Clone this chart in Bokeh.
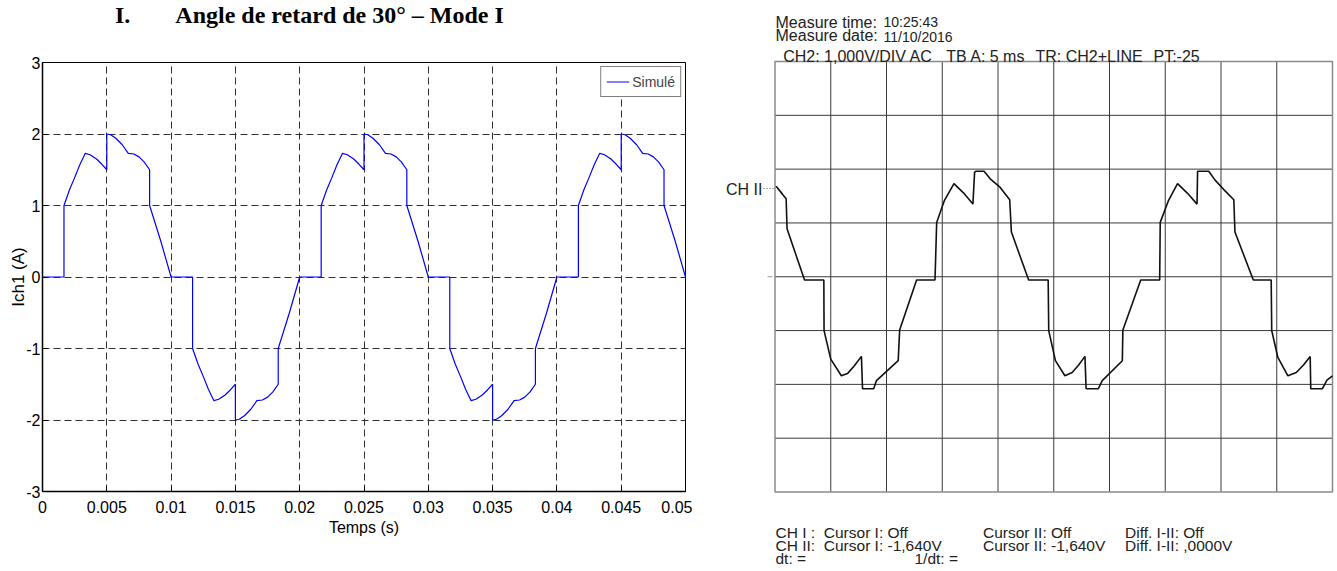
from bokeh.plotting import figure
from bokeh.models import Range1d, FixedTicker, Label
from bokeh.layouts import row, column
from bokeh.embed import file_html
from bokeh.resources import INLINE

# ---------------- data: simulated current (left chart) ----------------
sim_t = [
    0.0, 0.00167, 0.00167, 0.0021, 0.0025, 0.0029, 0.00333, 0.0037, 0.0042, 0.0046, 0.005, 0.005,
    0.0053, 0.0057, 0.0062, 0.00667, 0.0071, 0.0075, 0.0079, 0.00833, 0.00833, 0.0092, 0.0100,
    0.01167, 0.01167, 0.0121, 0.0125, 0.0129, 0.01333, 0.0137, 0.0142, 0.0146, 0.015, 0.015,
    0.0153, 0.0157, 0.0162, 0.01667, 0.0171, 0.0175, 0.0179, 0.01833, 0.01833, 0.0192, 0.0200,
    0.02167, 0.02167, 0.0221, 0.0225, 0.0229, 0.02333, 0.0237, 0.0242, 0.0246, 0.025, 0.025,
    0.0253, 0.0257, 0.0262, 0.02667, 0.0271, 0.0275, 0.0279, 0.02833, 0.02833, 0.0292, 0.0300,
    0.03167, 0.03167, 0.0321, 0.0325, 0.0329, 0.03333, 0.0337, 0.0342, 0.0346, 0.035, 0.035,
    0.0353, 0.0357, 0.0362, 0.03667, 0.0371, 0.0375, 0.0379, 0.03833, 0.03833, 0.0392, 0.0400,
    0.04167, 0.04167, 0.0421, 0.0425, 0.0429, 0.04333, 0.0437, 0.0442, 0.0446, 0.045, 0.045,
    0.0453, 0.0457, 0.0462, 0.04667, 0.0471, 0.0475, 0.0479, 0.04833, 0.04833, 0.0492, 0.0500,
]
sim_i = [
    0.0, 0.0, 1.0, 1.22, 1.39, 1.57, 1.73, 1.71, 1.65, 1.58, 1.5, 2.0,
    1.99, 1.94, 1.85, 1.73, 1.72, 1.68, 1.61, 1.5, 1.0, 0.5, 0.0,
    0.0, -1.0, -1.22, -1.39, -1.57, -1.73, -1.71, -1.65, -1.58, -1.5, -2.0,
    -1.99, -1.94, -1.85, -1.73, -1.72, -1.68, -1.61, -1.5, -1.0, -0.5, 0.0,
    0.0, 1.0, 1.22, 1.39, 1.57, 1.73, 1.71, 1.65, 1.58, 1.5, 2.0,
    1.99, 1.94, 1.85, 1.73, 1.72, 1.68, 1.61, 1.5, 1.0, 0.5, 0.0,
    0.0, -1.0, -1.22, -1.39, -1.57, -1.73, -1.71, -1.65, -1.58, -1.5, -2.0,
    -1.99, -1.94, -1.85, -1.73, -1.72, -1.68, -1.61, -1.5, -1.0, -0.5, 0.0,
    0.0, 1.0, 1.22, 1.39, 1.57, 1.73, 1.71, 1.65, 1.58, 1.5, 2.0,
    1.99, 1.94, 1.85, 1.73, 1.72, 1.68, 1.61, 1.5, 1.0, 0.5, 0.0,
]
x_ticks = [0, 0.005, 0.01, 0.015, 0.02, 0.025, 0.03, 0.035, 0.04, 0.045, 0.05]
x_tick_labels = ["0", "0.005", "0.01", "0.015", "0.02", "0.025", "0.03", "0.035", "0.04", "0.045", "0.05"]
y_ticks = [-3, -2, -1, 0, 1, 2, 3]
y_tick_labels = ["-3", "-2", "-1", "0", "1", "2", "3"]
heading_number = "I."
heading_text = "Angle de retard de 30° – Mode I"

# ---------------- data: oscilloscope trace (right chart) ----------------
scope_t_ms = [
    0.1, 0.65, 1.0, 1.08, 2.65, 4.38, 4.4, 5.0, 5.95, 6.5, 7.1, 7.75, 7.85, 8.85, 9.1, 11.05, 11.18,
    12.7, 14.35, 14.5, 15.2, 16.05, 16.9, 17.75, 17.9, 18.0, 18.75, 19.3, 20.2, 21.05, 21.2, 22.75,
    24.5, 24.55, 25.15, 26.0, 26.65, 27.2, 27.8, 27.9, 29.0, 29.35, 31.15, 31.2, 32.8, 34.5, 34.55,
    35.3, 36.1, 37.0, 37.85, 37.9, 38.0, 38.9, 39.45, 40.25, 41.15, 41.25, 42.9, 44.5, 44.55, 45.1,
    46.0, 46.75, 47.4, 48.0, 48.05, 49.1, 49.5, 50.0,
]
scope_v = [
    1.68, 1.54, 1.45, 0.89, -0.06, -0.06, -1.0, -1.53, -1.84, -1.8, -1.66, -1.48, -2.08, -2.08, -1.93, -1.56, -0.99,
    -0.06, -0.06, 1.01, 1.42, 1.73, 1.56, 1.35, 1.94, 1.96, 1.96, 1.82, 1.66, 1.43, 0.83, -0.06,
    -0.06, -1.0, -1.56, -1.84, -1.78, -1.65, -1.48, -2.08, -2.08, -1.93, -1.56, -0.99, -0.06, -0.06, 1.01,
    1.42, 1.73, 1.55, 1.35, 1.96, 1.96, 1.96, 1.8, 1.62, 1.43, 0.83, -0.06, -0.06, -1.0, -1.5,
    -1.84, -1.78, -1.64, -1.48, -2.08, -2.08, -1.92, -1.84,
]
scope_x_grid = [0, 5, 10, 15, 20, 25, 30, 35, 40, 45, 50]
scope_y_grid = [-4, -3, -2, -1, 0, 1, 2, 3, 4]
ch2_marker_level = 1.64
ground_level = 0.0
header_lines = [
    ("Measure time:", "10:25:43"),
    ("Measure date:", "11/10/2016"),
]
setting_texts = ["CH2: 1,000V/DIV AC", "TB A: 5 ms", "TR: CH2+LINE", "PT:-25"]
cursor_rows = [
    ["CH I :", "Cursor I: Off", "Cursor II: Off", "Diff. I-II: Off"],
    ["CH II:", "Cursor I: -1,640V", "Cursor II: -1,640V", "Diff. I-II: ,0000V"],
]
dt_texts = ["dt: =", "1/dt: ="]

SANS = "Liberation Sans"
LEFT_W = 692
TOTAL_W = 1337
TOTAL_H = 571
HEAD_H = 34
FRAME_TOP = 62

# ================= heading strip (above left chart) =================
hf = figure(width=LEFT_W, height=HEAD_H, x_range=Range1d(0, LEFT_W), y_range=Range1d(HEAD_H, 0),
            x_axis_type=None, y_axis_type=None, output_backend="svg", toolbar_location=None,
            min_border=0)
hf.outline_line_color = None
hf.background_fill_color = "white"
hf.border_fill_color = "white"
hf.add_layout(Label(x=78, y=27, text=heading_number, text_font="Liberation Serif",
                    text_font_style="bold", text_font_size="24px", text_color="black"))
hf.add_layout(Label(x=143, y=27, text=heading_text, text_font="Liberation Serif",
                    text_font_style="bold", text_font_size="24px", text_color="black"))

# ================= left chart =================
p1 = figure(width=LEFT_W, height=TOTAL_H - HEAD_H, x_range=Range1d(0, 0.05), y_range=Range1d(-3, 3),
            output_backend="svg", toolbar_location=None,
            min_border_left=42, min_border_right=7, min_border_top=FRAME_TOP - HEAD_H,
            min_border_bottom=TOTAL_H - 491 - 0,
            x_axis_label="Temps (s)", y_axis_label="Ich1 (A)")
p1.background_fill_color = "white"
p1.border_fill_color = "white"
p1.outline_line_color = "black"
p1.outline_line_width = 1

for ax, ticks, labels in ((p1.xaxis[0], x_ticks, x_tick_labels), (p1.yaxis[0], y_ticks, y_tick_labels)):
    ax.ticker = FixedTicker(ticks=ticks)
    ax.major_label_overrides = dict(zip(ticks, labels))
    ax.major_tick_in = 5
    ax.major_tick_out = 0
    ax.minor_tick_line_color = None
    ax.axis_line_color = "black"
    ax.axis_line_width = 1.5
    ax.major_tick_line_color = "black"
    ax.major_label_text_font = SANS
    ax.major_label_text_font_size = "16px"
    ax.major_label_text_color = "black"
    ax.axis_label_text_font = SANS
    ax.axis_label_text_font_style = "normal"
    ax.axis_label_text_color = "black"

p1.xaxis[0].major_label_standoff = 9
p1.xaxis[0].axis_label_standoff = 3
p1.xaxis[0].axis_label_text_font_size = "16px"
p1.yaxis[0].major_label_standoff = 2
p1.yaxis[0].axis_label_standoff = -5
p1.yaxis[0].axis_label_text_font_size = "17px"

for g in (p1.xgrid[0], p1.ygrid[0]):
    g.grid_line_color = "#303030"
    g.grid_line_dash = "7 4"
    g.grid_line_width = 1

p1.line(sim_t, sim_i, line_color="#0000ff", line_width=1.2, legend_label="Simulé")
lg = p1.legend[0]
lg.location = "top_right"
lg.margin = 4
lg.padding = 5
lg.spacing = 0
lg.label_standoff = 3
lg.glyph_width = 23
lg.glyph_height = 19
lg.label_height = 19
lg.label_text_font = SANS
lg.label_text_font_size = "14px"
lg.border_line_color = "black"
lg.border_line_width = 1
lg.background_fill_alpha = 1.0

# ================= right chart (oscilloscope) =================
RIGHT_W = TOTAL_W - LEFT_W
# grid box position inside the page (pixels)
G_LEFT, G_RIGHT, G_TOP, G_BOTTOM = 774.5 - LEFT_W, 1332.0 - LEFT_W, 61.0, 491.5
px_ms = (G_RIGHT - G_LEFT) / (scope_x_grid[-1] - scope_x_grid[0])
px_v = (G_BOTTOM - G_TOP) / (scope_y_grid[-1] - scope_y_grid[0])
xr = Range1d(scope_x_grid[0] - G_LEFT / px_ms, scope_x_grid[-1] + (RIGHT_W - G_RIGHT) / px_ms)
yr = Range1d(scope_y_grid[0] - (TOTAL_H - G_BOTTOM) / px_v, scope_y_grid[-1] + G_TOP / px_v)

def sx(page_x):
    return scope_x_grid[0] + (page_x - LEFT_W - G_LEFT) / px_ms

def sy(page_y):
    return scope_y_grid[-1] - (page_y - G_TOP) / px_v

p2 = figure(width=RIGHT_W, height=TOTAL_H, x_range=xr, y_range=yr,
            x_axis_type=None, y_axis_type=None, output_backend="svg", toolbar_location=None,
            min_border=0)
p2.outline_line_color = None
p2.background_fill_color = "white"
p2.border_fill_color = "white"

inner_x = scope_x_grid[1:-1]
inner_y = scope_y_grid[1:-1]
p2.segment(x0=inner_x, y0=[scope_y_grid[0]] * len(inner_x), x1=inner_x, y1=[scope_y_grid[-1]] * len(inner_x),
           line_color="#3a3a3a", line_width=1)
p2.segment(x0=[scope_x_grid[0]] * len(inner_y), y0=inner_y, x1=[scope_x_grid[-1]] * len(inner_y), y1=inner_y,
           line_color="#3a3a3a", line_width=1)
p2.quad(left=[scope_x_grid[0]], right=[scope_x_grid[-1]], bottom=[scope_y_grid[0]], top=[scope_y_grid[-1]],
        fill_color=None, line_color="#8a8a8a", line_width=1.5)

# channel marker (dotted leader) and ground marker
p2.segment(x0=[sx(763)], y0=[ch2_marker_level], x1=[scope_x_grid[0]], y1=[ch2_marker_level],
           line_color="#555555", line_width=1, line_dash="1 2")
p2.segment(x0=[sx(767)], y0=[ground_level], x1=[sx(772)], y1=[ground_level],
           line_color="#999999", line_width=1)

p2.line(scope_t_ms, scope_v, line_color="#111111", line_width=1.6)

def scope_text(px, py, txt, size="16px", align="left", baseline="alphabetic"):
    p2.add_layout(Label(x=sx(px), y=sy(py), text=txt, text_font=SANS, text_font_size=size,
                        text_color="#222222", text_align=align, text_baseline=baseline))

scope_text(762, 188.5, "CH II", align="right", baseline="middle")
scope_text(775, 21.7, header_lines[0][0])
scope_text(883, 21.7, header_lines[0][1], "14px")
scope_text(775, 35.0, header_lines[1][0])
scope_text(883, 36.0, header_lines[1][1], "14px")
for px, txt in zip([782.7, 945.7, 1035.0, 1153.0], setting_texts):
    scope_text(px, 56.0, txt)
for py, row_texts in zip([532.0, 545.0], cursor_rows):
    for px, txt in zip([775.0, 823.3, 982.5, 1124.5], row_texts):
        scope_text(px, py, txt, "15.5px")
for px, txt in zip([775.0, 914.0], dt_texts):
    scope_text(px, 558.0, txt, "15.5px")

layout = row(column(hf, p1), p2)
open("out.html", "w").write(file_html(layout, INLINE))
